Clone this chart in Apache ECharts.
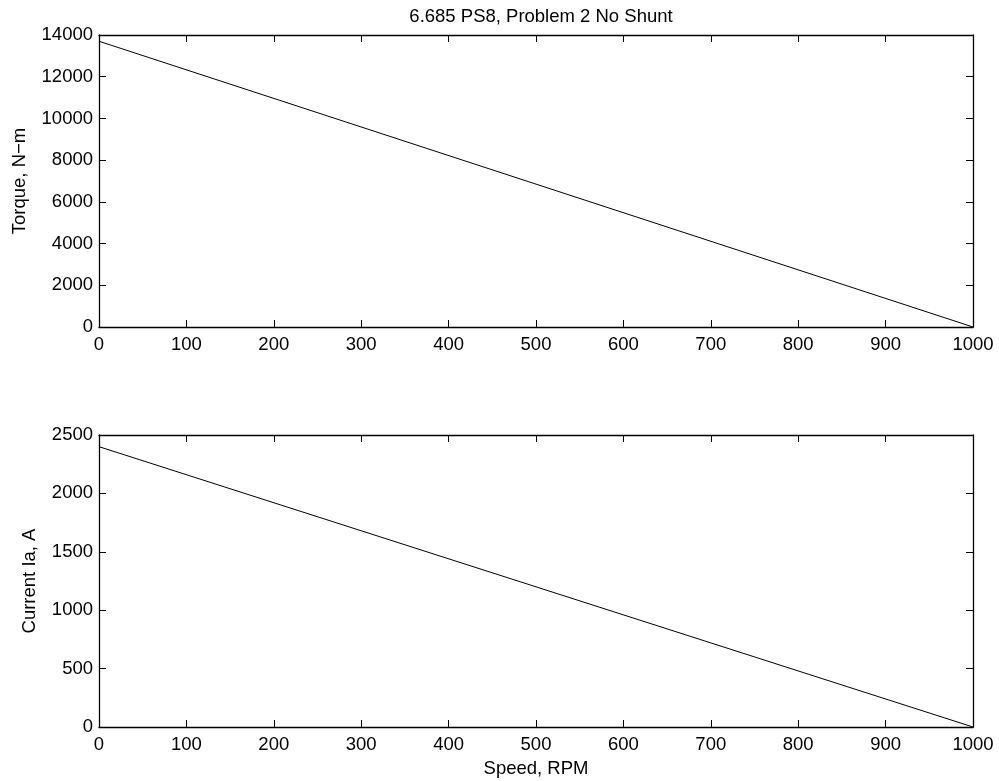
<!DOCTYPE html>
<html>
<head>
<meta charset="utf-8">
<script src="https://cdn.jsdelivr.net/npm/echarts@6/dist/echarts.min.js"></script>
<style>html,body{margin:0;padding:0;background:#fff}#c{width:999px;height:781px}</style>
</head>
<body>
<div id="c"></div>
<script>
const speed = [0, 1000];
const torque = [13700, 0];
const current = [2400, 0];
const xTicks = [0,100,200,300,400,500,600,700,800,900,1000];
const torqueTicks = [0,2000,4000,6000,8000,10000,12000,14000];
const currentTicks = [0,500,1000,1500,2000,2500];

const font = 'Liberation Sans, Arial, Helvetica, sans-serif';
const FS = 18.5;
const chart = echarts.init(document.getElementById('c'));
const grids = [
  {left: 99, top: 35, width: 874, height: 292},
  {left: 99, top: 435, width: 874, height: 292}
];
function xAx(gi, pos, show) {
  return {
    type: 'value', gridIndex: gi, position: pos, min: 0, max: 1000, interval: 100,
    axisLine: {show: true, onZero: false, lineStyle: {color: '#000', width: 1.3}},
    axisTick: {show: true, inside: true, length: 7, lineStyle: {color: '#000'}},
    axisLabel: {show: show, color: '#000', fontSize: FS, fontFamily: font, margin: 8,
      formatter: v => String(v)},
    splitLine: {show: false}
  };
}
function yAx(gi, pos, show, max, interval, name, gap) {
  return {
    type: 'value', gridIndex: gi, position: pos, min: 0, max: max, interval: interval,
    name: show ? name : '', nameLocation: 'middle', nameGap: gap || 60,
    nameTextStyle: {color: '#000', fontSize: FS, fontFamily: font},
    axisLine: {show: true, onZero: false, lineStyle: {color: '#000', width: 1.3}},
    axisTick: {show: true, inside: true, length: 7, lineStyle: {color: '#000'}},
    axisLabel: {show: show, color: '#000', fontSize: FS, fontFamily: font, margin: 6,
      formatter: v => String(v)},
    splitLine: {show: false}
  };
}
const xb2 = xAx(1, 'bottom', true);
xb2.name = 'Speed, RPM'; xb2.nameLocation = 'middle'; xb2.nameGap = 32;
xb2.nameTextStyle = {color: '#000', fontSize: FS, fontFamily: font};
chart.setOption({
  animation: false,
  backgroundColor: '#fff',
  title: {text: '6.685 PS8, Problem 2 No Shunt', left: 536, top: 2, textAlign: 'center',
    textStyle: {color: '#000', fontSize: FS, fontWeight: 'normal', fontFamily: font}},
  grid: grids,
  xAxis: [xAx(0, 'bottom', true), xAx(0, 'top', false), xb2, xAx(1, 'top', false)],
  yAxis: [yAx(0, 'left', true, 14000, 2000, 'Torque, N\u2212m', 70), yAx(0, 'right', false, 14000, 2000),
          yAx(1, 'left', true, 2500, 500, 'Current Ia, A', 60), yAx(1, 'right', false, 2500, 500)],
  series: [
    {type: 'line', xAxisIndex: 0, yAxisIndex: 0, data: speed.map((s, i) => [s, torque[i]]),
     showSymbol: false, lineStyle: {color: '#000', width: 1}},
    {type: 'line', xAxisIndex: 2, yAxisIndex: 2, data: speed.map((s, i) => [s, current[i]]),
     showSymbol: false, lineStyle: {color: '#000', width: 1}}
  ]
});
</script>
</body>
</html>
